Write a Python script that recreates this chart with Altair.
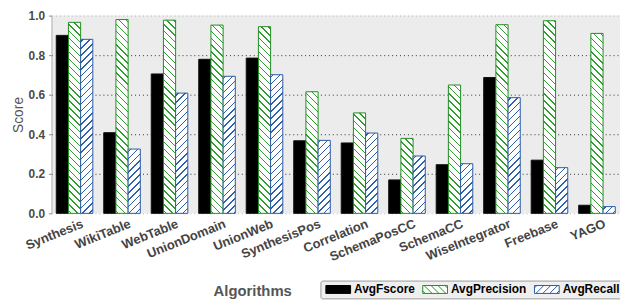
import altair as alt

categories = ["Synthesis", "WikiTable", "WebTable", "UnionDomain", "UnionWeb",
              "SynthesisPos", "Correlation", "SchemaPosCC", "SchemaCC",
              "WiseIntegrator", "Freebase", "YAGO"]
series_names = ["AvgFscore", "AvgPrecision", "AvgRecall"]
fscore = [0.900, 0.408, 0.705, 0.779, 0.785, 0.367, 0.356, 0.169, 0.246, 0.687, 0.269, 0.041]
precision = [0.966, 0.980, 0.977, 0.952, 0.944, 0.615, 0.508, 0.379, 0.649, 0.954, 0.974, 0.910]
recall = [0.880, 0.325, 0.608, 0.693, 0.701, 0.369, 0.406, 0.290, 0.251, 0.585, 0.231, 0.034]

W, H = 575, 200
PAD_IN, PAD_OUT = 0.23, 0.1
step = W / (len(categories) - PAD_IN + 2 * PAD_OUT)
bar_w = step * (1 - PAD_IN) / 3

GREEN = "#1f8f1f"
GREEN_HATCH = "#2f9e2f"
BLUE = "#2a5aa6"
BLUE_HATCH = "#2c5fae"


def hatch(value, direction, color, period=7.0, thick=1.4):
    h = max(value * H, 0.5)
    w = bar_w
    L = w + h
    c = L / (w * w + h * h)
    if direction == "back":
        x1, y1, x2, y2 = 0, 1, c * w, 1 - c * h
    else:
        x1, y1, x2, y2 = 0, 0, c * w, c * h
    stops = [{"offset": 0, "color": "#ffffff"}]
    s = 2.0
    while s < L:
        a = s / L
        b = min(s + thick, L) / L
        stops += [{"offset": round(a, 5), "color": "#ffffff"},
                  {"offset": round(a, 5), "color": color},
                  {"offset": round(b, 5), "color": color},
                  {"offset": round(b, 5), "color": "#ffffff"}]
        s += period
    stops.append({"offset": 1, "color": "#ffffff"})
    return {"gradient": "linear", "x1": x1, "y1": y1, "x2": x2, "y2": y2, "stops": stops}


records = []
for i, cat in enumerate(categories):
    records.append({"cat": cat, "series": "AvgFscore", "value": fscore[i],
                    "gfill": "#000000", "gstroke": "#111111"})
    records.append({"cat": cat, "series": "AvgPrecision", "value": precision[i],
                    "gfill": hatch(precision[i], "back", GREEN_HATCH), "gstroke": GREEN})
    records.append({"cat": cat, "series": "AvgRecall", "value": recall[i],
                    "gfill": hatch(recall[i], "fwd", BLUE_HATCH), "gstroke": BLUE})
data = alt.Data(values=records)

# legend swatch shapes (rect + hatch lines), in symbol units
SX = 3.125
SP = 1.75


def swatch(direction):
    p = f"M{-SX},-1H{SX}V1H{-SX}Z"
    if direction is None:
        return p
    d = -SX - 1 + 0.6
    segs = []
    while d < SX + 1:
        if direction == "back":
            lo, hi = max(-1, -SX - d), min(1, SX - d)
            if hi > lo:
                segs.append(f"M{d + lo:.3f},{lo:.3f}L{d + hi:.3f},{hi:.3f}")
        else:
            lo, hi = max(-1, d - SX), min(1, d + SX)
            if hi > lo:
                segs.append(f"M{d - lo:.3f},{lo:.3f}L{d - hi:.3f},{hi:.3f}")
        d += SP
    return p + "".join(segs)


FONT = "Liberation Sans"
leg = alt.Legend(
    title=None, orient="none", legendX=272, legendY=268, direction="horizontal",
    symbolSize=64, symbolStrokeWidth=1, symbolOpacity=1, symbolOffset=9, labelOffset=10,
    columnPadding=5, labelFont=FONT, labelFontSize=12, labelFontWeight="bold",
    labelColor="#000000", fillColor="#efefef", strokeColor="#9a9a9a",
    cornerRadius=2, padding=3,
)

X = alt.X("cat:N", sort=categories, title="Algorithms",
          scale=alt.Scale(paddingInner=PAD_IN, paddingOuter=PAD_OUT),
          axis=alt.Axis(labelAngle=-22, labelAlign="right", labelBaseline="top",
                        labelFont=FONT, labelFontSize=13, labelFontWeight="bold",
                        labelColor="#444444", labelPadding=4, labelOffset=6,
                        ticks=False, domain=False,
                        grid=False, titleFont=FONT, titleFontSize=15,
                        titleFontWeight="bold", titleColor="#555555",
                        titleX=203, titleY=83, titleAlign="center",
                        titleBaseline="alphabetic"))
XO = alt.XOffset("series:N", sort=series_names,
                 scale=alt.Scale(domain=series_names, paddingInner=0, paddingOuter=0))
Y = alt.Y("value:Q", title="Score", scale=alt.Scale(domain=[0, 1]),
          axis=alt.Axis(values=[0, 0.2, 0.4, 0.6, 0.8, 1.0], format=".1f",
                        labelFont=FONT, labelFontSize=12, labelFontWeight="bold",
                        labelColor="#4a4a4a", labelPadding=4, tickSize=3,
                        tickColor="#888888", domainColor="#b0b0b0",
                        grid=True,
                        gridColor={"condition": {"test": "datum.value === 1 || datum.value === 0",
                                                 "value": "#b5b5b5"}, "value": "#333333"},
                        gridDash=[1, 3], gridWidth=1,
                        titleFont=FONT, titleFontSize=14, titleFontWeight="normal",
                        titleColor="#555555", titlePadding=3))

points = alt.Chart(data).mark_point(size=0, filled=False, strokeWidth=1, opacity=1).encode(
    x=X, xOffset=XO, y=Y,
    fill=alt.Fill("series:N", sort=series_names,
                  scale=alt.Scale(domain=series_names, range=["#000000", "#ffffff", "#ffffff"]),
                  legend=leg),
    stroke=alt.Stroke("series:N", sort=series_names,
                      scale=alt.Scale(domain=series_names, range=["#000000", GREEN, BLUE]),
                      legend=leg),
    shape=alt.Shape("series:N", sort=series_names,
                    scale=alt.Scale(domain=series_names,
                                    range=[swatch(None), swatch("back"), swatch("fwd")]),
                    legend=leg),
)

bars = alt.Chart(data).mark_bar(strokeWidth=1).encode(
    x=X, xOffset=XO, y=Y,
    fill=alt.Fill("gfill:N", scale=None, legend=None),
    stroke=alt.Stroke("gstroke:N", scale=None, legend=None),
)

chart = alt.layer(points, bars).properties(
    width=W, height=H,
    autosize=alt.AutoSizeParams(type="none"),
    padding={"left": 44, "top": 6, "right": 0, "bottom": 90},
).configure_view(fill="#ececec", stroke=None)

chart.save("out.html", embed_options={"renderer": "svg", "actions": False})
